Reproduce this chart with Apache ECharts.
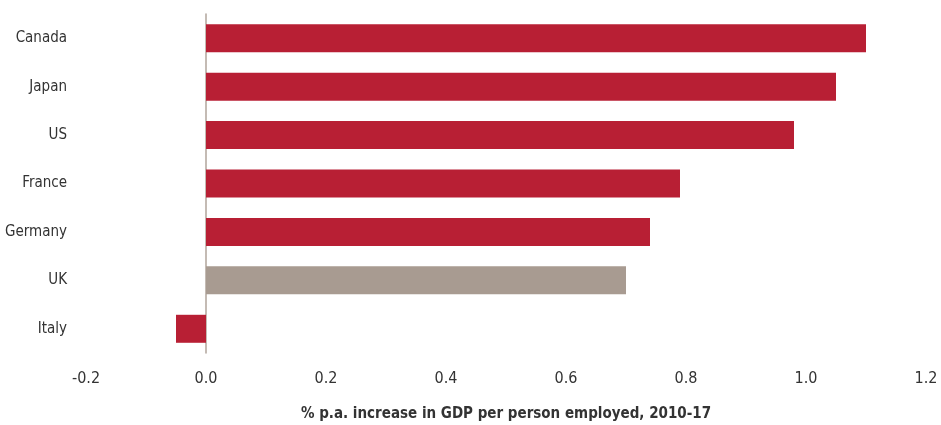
<!DOCTYPE html>
<html>
<head>
<meta charset="utf-8">
<script src="https://cdn.jsdelivr.net/npm/echarts@6/dist/echarts.min.js"></script>
<style>
  html, body { margin: 0; padding: 0; background: #fff; }
  #chart { width: 941px; height: 425px; }
</style>
</head>
<body>
<div id="chart"></div>
<script>
// Productivity growth by country, top to bottom
const countries = ['Canada', 'Japan', 'US', 'France', 'Germany', 'UK', 'Italy'];
const growth = [1.10, 1.05, 0.98, 0.79, 0.74, 0.70, -0.05];
const highlight = 'UK';
const xTicks = { min: -0.2, max: 1.2, interval: 0.2 };
const axisTitle = '% p.a. increase in GDP per person employed, 2010-17';

const RED = '#b81f34';
const GREY = '#a89b91';
const FONT = '"Liberation Sans Narrow", "DejaVu Sans Condensed", "Roboto", sans-serif';

// category axis runs top-to-bottom, so reverse for ECharts
const cats = countries.slice().reverse();
const vals = growth.slice().reverse().map((v, i) => ({
  value: v,
  itemStyle: { color: cats[i] === highlight ? GREY : RED }
}));

const chart = echarts.init(document.getElementById('chart'), null, { renderer: 'canvas' });
chart.setOption({
  animation: false,
  grid: { left: 86, right: 15, top: 14, bottom: 72, containLabel: false, outerBoundsMode: 'none' },
  xAxis: {
    type: 'value',
    min: xTicks.min, max: xTicks.max, interval: xTicks.interval,
    axisLine: { show: false },
    axisTick: { show: false },
    splitLine: { show: false },
    axisLabel: {
      margin: 18,
      fontFamily: FONT, fontSize: 16, color: '#333',
      formatter: v => v.toFixed(1)
    },
    name: axisTitle,
    nameLocation: 'middle',
    nameGap: 54,
    nameTextStyle: { fontFamily: FONT, fontSize: 15, fontWeight: 'bold', color: '#333' }
  },
  yAxis: {
    type: 'category',
    data: cats,
    axisLine: { show: true, onZero: true, lineStyle: { color: '#b0a49b', width: 1.5 } },
    axisTick: { show: false },
    axisLabel: {
      margin: 19,
      fontFamily: FONT, fontSize: 15, color: '#333'
    }
  },
  series: [{
    type: 'bar',
    data: vals,
    barWidth: 28
  }]
});
</script>
</body>
</html>
